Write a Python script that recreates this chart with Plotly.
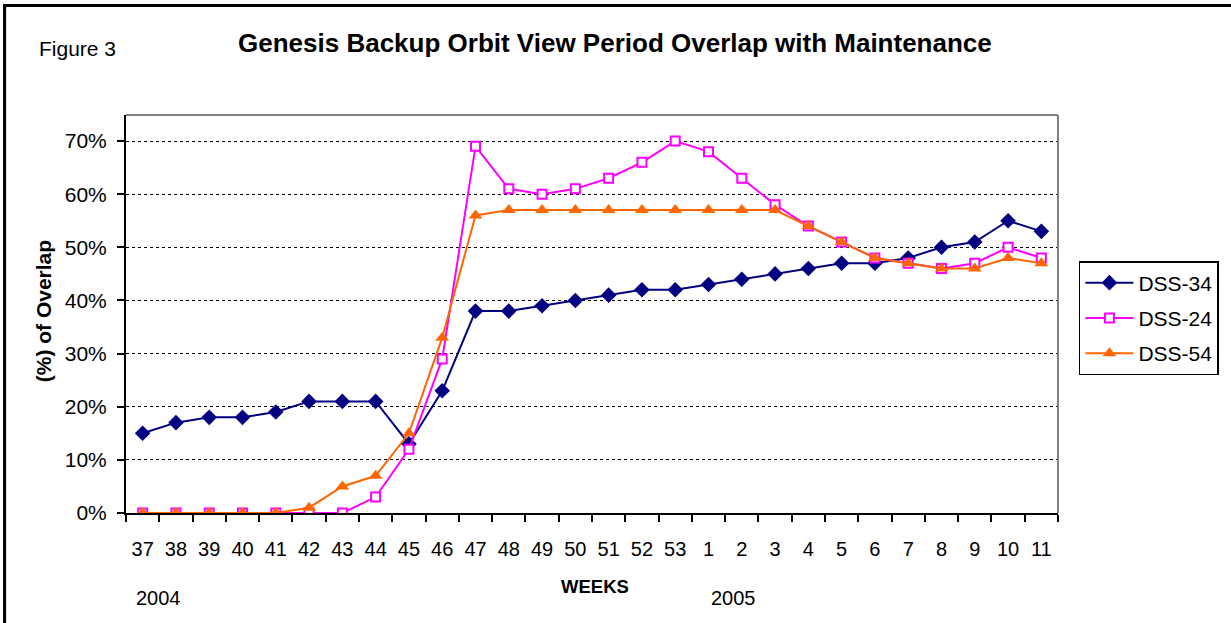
import plotly.graph_objects as go

weeks = ["37", "38", "39", "40", "41", "42", "43", "44", "45", "46", "47", "48", "49", "50",
         "51", "52", "53", "1", "2", "3", "4", "5", "6", "7", "8", "9", "10", "11"]
dss34 = [15, 17, 18, 18, 19, 21, 21, 21, 13, 23, 38, 38, 39, 40, 41, 42, 42, 43, 44, 45,
         46, 47, 47, 48, 50, 51, 55, 53]
dss24 = [0, 0, 0, 0, 0, 0, 0, 3, 12, 29, 69, 61, 60, 61, 63, 66, 70, 68, 63, 58,
         54, 51, 48, 47, 46, 47, 50, 48]
dss54 = [0, 0, 0, 0, 0, 1, 5, 7, 15, 33, 56, 57, 57, 57, 57, 57, 57, 57, 57, 57,
         54, 51, 48, 47, 46, 46, 48, 47]
y_ticks = [0, 10, 20, 30, 40, 50, 60, 70]

FONT = "Liberation Sans, Arial, sans-serif"
W, H = 1231, 623
L, R, T, B = 126, 1061, 115, 513

def px(x):
    return (x - L) / (R - L)

def py(y):
    return (B - y) / (B - T)

xi = list(range(len(weeks)))
fig = go.Figure()
fig.add_trace(go.Scatter(
    x=xi, y=[v / 100 for v in dss34], name="DSS-34", mode="lines+markers",
    legendgroup="a",
    line=dict(color="#000080", width=2),
    marker=dict(symbol="diamond", size=12, color="#000080")))
fig.add_trace(go.Scatter(
    x=xi, y=[v / 100 for v in dss24], name="DSS-24", mode="lines+markers",
    legendgroup="b",
    line=dict(color="#FF00FF", width=2),
    marker=dict(symbol="square", size=9, color="white", line=dict(color="#FF00FF", width=2))))
fig.add_trace(go.Scatter(
    x=xi, y=[v / 100 for v in dss54], name="DSS-54", mode="lines+markers",
    legendgroup="c",
    line=dict(color="#FF6600", width=2),
    marker=dict(symbol="triangle-up", size=12, color="#FF6600")))

fig.update_layout(
    width=W, height=H,
    margin=dict(l=L, r=W - R, t=T, b=H - B),
    paper_bgcolor="white", plot_bgcolor="white",
    font=dict(family=FONT, color="black"),
    showlegend=True,
    legend=dict(x=px(1082), y=py(261), xanchor="left", yanchor="top",
                bordercolor="black", borderwidth=1.5, bgcolor="white",
                font=dict(size=21, family=FONT), tracegroupgap=5,
                itemwidth=48),
    xaxis=dict(
        range=[-0.5, len(weeks) - 0.5],
        tickmode="array", tickvals=xi, ticktext=weeks,
        ticks="", showgrid=False, zeroline=False,
        showline=True, linecolor="black", linewidth=2,
        tickfont=dict(size=20, family=FONT),
        ticklabelstandoff=17,
        minor=dict(ticks="outside", tickvals=[i - 0.5 for i in range(len(weeks) + 1)],
                   ticklen=7, tickwidth=2, tickcolor="black", showgrid=False),
    ),
    yaxis=dict(
        range=[0, 0.749],
        tickmode="array", tickvals=[v / 100 for v in y_ticks],
        ticktext=[f"{v}%" for v in y_ticks],
        ticks="outside", ticklen=7, tickwidth=2, tickcolor="black",
        showgrid=True, gridcolor="black", gridwidth=1, griddash="dot",
        zeroline=False, showline=True, linecolor="black", linewidth=2,
        tickfont=dict(size=21, family=FONT),
        ticklabelstandoff=6,
    ),
    shapes=[
        dict(type="line", xref="paper", yref="paper", x0=0, x1=1, y0=1, y1=1,
             line=dict(color="#808080", width=2)),
        dict(type="line", xref="paper", yref="paper", x0=1, x1=1, y0=0, y1=1,
             line=dict(color="#808080", width=2)),
        dict(type="rect", xref="paper", yref="paper",
             x0=px(4.5), x1=px(1240), y0=py(630), y1=py(5.5),
             line=dict(color="black", width=2.5), fillcolor="rgba(0,0,0,0)",
             layer="above"),
    ],
    annotations=[
        dict(text="<b>Genesis Backup Orbit View Period Overlap with Maintenance</b>",
             x=px(617), y=py(43), xref="paper", yref="paper", showarrow=False,
             xanchor="center", yanchor="middle", font=dict(size=26, family=FONT)),
        dict(text="Figure 3", x=px(77), y=py(48), xref="paper", yref="paper",
             showarrow=False, xanchor="center", yanchor="middle",
             font=dict(size=21, family=FONT)),
        dict(text="<b>WEEKS</b>", x=px(597), y=py(586), xref="paper", yref="paper",
             showarrow=False, xanchor="center", yanchor="middle",
             font=dict(size=18.5, family=FONT)),
        dict(text="2004", x=px(159), y=py(598), xref="paper", yref="paper",
             showarrow=False, xanchor="center", yanchor="middle",
             font=dict(size=20, family=FONT)),
        dict(text="2005", x=px(735), y=py(598), xref="paper", yref="paper",
             showarrow=False, xanchor="center", yanchor="middle",
             font=dict(size=20, family=FONT)),
        dict(text="<b>(%) of Overlap</b>", x=px(43), y=py(311), xref="paper", yref="paper",
             showarrow=False, xanchor="center", yanchor="middle", textangle=-90,
             font=dict(size=21, family=FONT)),
    ],
)

post = (
    "document.body.style.margin='0';document.body.style.padding='0';"
    "document.documentElement.style.overflow='hidden';window.scrollTo(0,0);"
    "var f=document.createElement('div');"
    "f.style.cssText='position:fixed;left:3px;top:4px;width:3000px;height:3000px;"
    "border-top:3px solid black;border-left:3px solid black;pointer-events:none;z-index:10;';"
    "document.body.appendChild(f);"
)

fig.write_html("out.html", config={"displayModeBar": False}, full_html=True,
               include_plotlyjs=True, default_width="1231px", default_height="623px",
               post_script=post)
